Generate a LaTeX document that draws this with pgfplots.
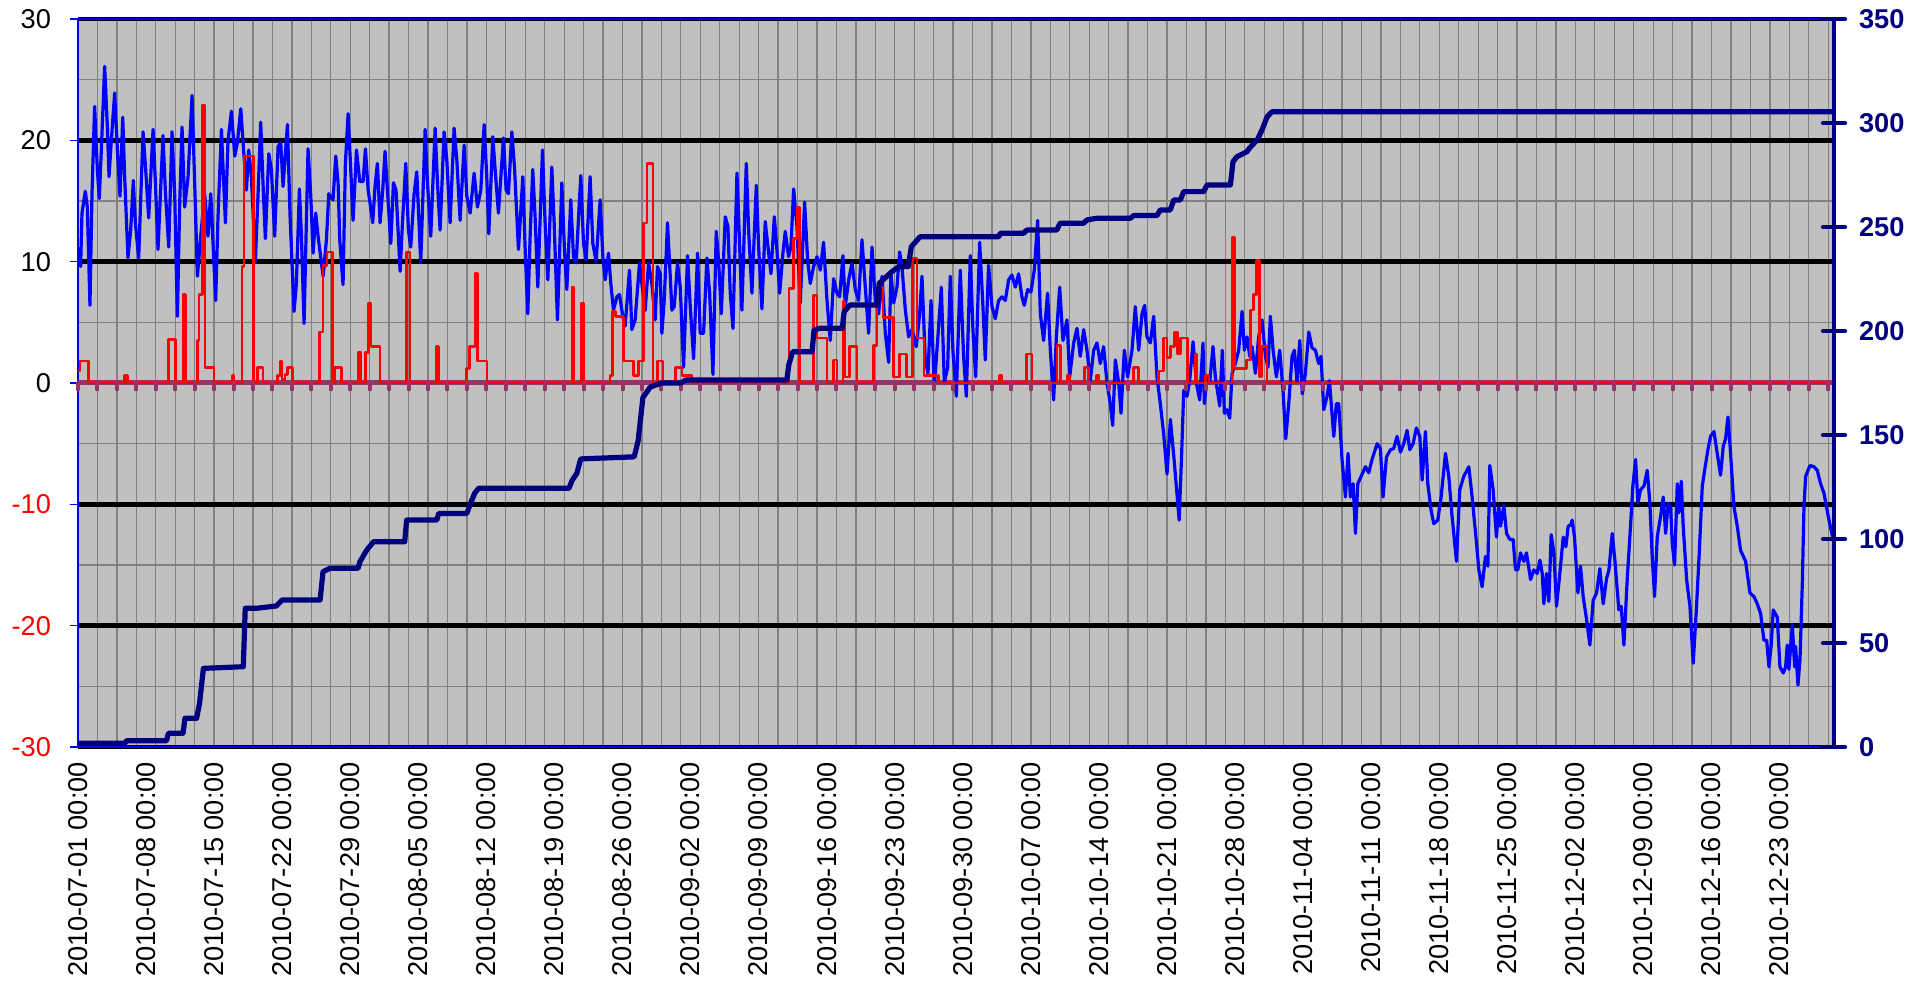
\documentclass[border=0pt]{standalone}
\usepackage{pgfplots}
\pgfplotsset{compat=1.18}
\usepackage{fontspec}
\setmainfont{Liberation Sans}
\definecolor{bgsilver}{RGB}{192,192,192}
\definecolor{gridgray}{RGB}{128,128,128}
\definecolor{plum}{RGB}{153,51,102}
\definecolor{navyb}{RGB}{0,0,128}
\definecolor{tblue}{RGB}{0,0,255}
\definecolor{pred}{RGB}{255,0,0}
\pgfdeclareplotmark{hang}{\pgfpathmoveto{\pgfpointorigin}\pgfpathlineto{\pgfpoint{0pt}{-3.2pt}}\pgfusepathqstroke}
\begin{document}
\begin{tikzpicture}
\begin{axis}[name=ax, scale only axis, width=878pt, height=364pt,
 xmin=0, xmax=180.6, ymin=-30, ymax=30,
 axis background/.style={fill=bgsilver},
 xtick={0,7,...,175},
 xticklabels={2010-07-01 00:00,2010-07-08 00:00,2010-07-15 00:00,2010-07-22 00:00,2010-07-29 00:00,2010-08-05 00:00,2010-08-12 00:00,2010-08-19 00:00,2010-08-26 00:00,2010-09-02 00:00,2010-09-09 00:00,2010-09-16 00:00,2010-09-23 00:00,2010-09-30 00:00,2010-10-07 00:00,2010-10-14 00:00,2010-10-21 00:00,2010-10-28 00:00,2010-11-04 00:00,2010-11-11 00:00,2010-11-18 00:00,2010-11-25 00:00,2010-12-02 00:00,2010-12-09 00:00,2010-12-16 00:00,2010-12-23 00:00},
 xtick style={draw=none},
 minor xtick={0,2,...,180},
 xminorgrids=true, xmajorgrids=false,
 ytick={-30,-20,...,30},
 yticklabels={\textcolor{pred}{-30},\textcolor{pred}{-20},\textcolor{pred}{-10},0,10,20,30},
 minor ytick={-25,-15,...,25},
 ymajorgrids=true, yminorgrids=true,
 major grid style={black, line width=2.2pt},
 minor grid style={gridgray, line width=0.65pt},
 minor tick length=0pt,
 ytick pos=left, tick align=outside,
 major tick length=4pt,
 ytick style={tblue, line width=0.6pt},
 x axis line style={black, line width=1.2pt},
 y axis line style={tblue, line width=0.8pt},
 ticklabel style={font=\fontsize{13.6}{15}\selectfont},
 xticklabel style={rotate=90, anchor=east},
 yticklabel style={xshift=-6pt},
]
\addplot[plum, line width=2.5pt, forget plot] coordinates {(0,0) (180.6,0)};
\addplot[only marks, mark=hang, mark options={plum, line width=2pt, line cap=round}, forget plot] coordinates {(0,0) (2,0) (4,0) (6,0) (8,0) (10,0) (12,0) (14,0) (16,0) (18,0) (20,0) (22,0) (24,0) (26,0) (28,0) (30,0) (32,0) (34,0) (36,0) (38,0) (40,0) (42,0) (44,0) (46,0) (48,0) (50,0) (52,0) (54,0) (56,0) (58,0) (60,0) (62,0) (64,0) (66,0) (68,0) (70,0) (72,0) (74,0) (76,0) (78,0) (80,0) (82,0) (84,0) (86,0) (88,0) (90,0) (92,0) (94,0) (96,0) (98,0) (100,0) (102,0) (104,0) (106,0) (108,0) (110,0) (112,0) (114,0) (116,0) (118,0) (120,0) (122,0) (124,0) (126,0) (128,0) (130,0) (132,0) (134,0) (136,0) (138,0) (140,0) (142,0) (144,0) (146,0) (148,0) (150,0) (152,0) (154,0) (156,0) (158,0) (160,0) (162,0) (164,0) (166,0) (168,0) (170,0) (172,0) (174,0) (176,0) (178,0) (180,0)};
% temperature
\addplot[tblue, line width=1.6pt, line join=round] coordinates {
(0,11.2) (0.27,9.6) (0.41,14.0) (0.75,15.8) (0.96,14.5) (1.23,6.4) (1.44,15.6) (1.71,22.8) (1.99,17.6) (2.19,15.2) (2.40,19.2) (2.74,26.1) (3.02,21.1) (3.19,17.0) (3.43,20.0) (3.77,23.9) (4.05,19.2) (4.32,15.4) (4.60,21.9) (4.80,17.0) (5.14,10.3) (5.42,12.6) (5.69,16.7) (5.90,13.2) (6.24,10.3) (6.69,20.7) (6.96,17.6) (7.27,13.6) (7.72,20.9) (7.96,16.5) (8.23,11.0) (8.74,20.4) (8.98,15.9) (9.33,11.2) (9.67,20.7) (9.95,15.4) (10.22,5.5) (10.46,14.8) (10.70,21.1) (10.97,14.5) (11.32,17.0) (11.73,23.7) (12.00,16.5) (12.28,8.8) (12.62,12.1) (13.03,15.6) (13.37,12.1) (13.65,15.6) (14.16,6.8) (14.40,13.7) (14.75,20.9) (15.16,13.2) (15.43,20.0) (15.78,22.4) (16.12,18.7) (16.39,19.8) (16.74,22.6) (16.98,19.8) (17.32,15.9) (17.56,19.2) (17.83,17.0) (18.24,10.0) (18.52,15.6) (18.79,21.5) (19.07,15.6) (19.27,11.9) (19.62,18.9) (19.89,17.6) (20.23,12.1) (20.58,19.5) (20.85,19.8) (21.09,16.2) (21.54,21.3) (21.81,13.7) (22.22,5.9) (22.46,8.2) (22.77,16.0) (22.98,12.1) (23.25,4.9) (23.66,19.3) (23.94,15.4) (24.18,10.7) (24.45,14.0) (24.69,12.1) (25.21,8.8) (25.55,11.8) (25.79,15.6) (26.23,15.1) (26.51,18.7) (26.75,16.5) (26.92,11.8) (27.26,8.1) (27.50,18.1) (27.78,22.2) (28.05,17.6) (28.29,13.4) (28.64,19.2) (28.98,16.6) (29.32,16.6) (29.56,19.3) (29.84,15.9)
(30.04,14.8) (30.31,13.2) (30.55,16.2) (30.79,18.1) (31.07,13.2) (31.34,15.9) (31.58,19.1) (31.82,15.9) (32.17,11.5) (32.44,16.5) (32.71,15.9) (33.13,9.2) (33.37,13.2) (33.71,18.1) (33.98,12.6) (34.22,11.2) (34.57,15.6) (34.84,17.4) (35.25,9.9) (35.46,15.1) (35.70,20.9) (35.94,16.5) (36.28,12.1) (36.73,21.0) (36.97,16.5) (37.24,12.6) (37.65,20.7) (37.93,18.4) (38.27,13.2) (38.68,21.0) (38.96,18.4) (39.30,13.4) (39.71,19.6) (39.99,15.4) (40.33,14.0) (40.74,17.3) (41.08,14.5) (41.43,15.9) (41.77,21.3) (42.04,17.0) (42.25,12.3) (42.66,20.3) (42.90,17.6) (43.24,14.0) (43.76,20.2) (44.03,15.9) (44.27,15.6) (44.62,20.7) (44.89,17.8) (45.30,11.0) (45.75,17.0) (45.99,11.0) (46.26,5.7) (46.50,12.1) (46.77,17.6) (47.01,13.7) (47.29,7.9) (47.77,19.2) (48.04,13.2) (48.32,8.5) (48.73,17.8) (48.97,13.2) (49.31,5.2) (49.76,16.5) (50.03,11.0) (50.27,7.7) (50.68,15.1) (50.96,10.4) (51.23,9.9) (51.71,17.1) (51.99,11.5) (52.26,10.1) (52.67,17.0) (52.95,11.5) (53.29,10.0) (53.70,15.1) (53.98,10.4) (54.22,8.5) (54.56,10.7) (54.80,8.2) (55.07,6.0) (55.42,7.1) (55.69,7.3) (56.03,5.5) (56.27,4.7) (56.72,9.3) (56.96,4.4) (57.30,5.2) (57.75,9.9) (57.99,8.2) (58.33,6.0) (58.68,9.9) (59.02,8.2) (59.36,5.2) (59.60,9.6)
(59.88,9.0) (60.05,4.1) (60.29,6.8) (60.63,13.2) (60.91,8.8) (61.08,6.0) (61.32,6.3) (61.66,9.9) (61.94,7.9) (62.28,1.3) (62.69,10.5) (62.97,6.3) (63.31,2.0) (63.72,10.7) (63.99,4.1) (64.34,4.1) (64.68,10.3) (64.96,7.4) (65.30,0.7) (65.64,12.5) (65.88,10.1) (66.16,5.7) (66.57,13.7) (66.84,12.9) (67.08,7.4) (67.36,4.5) (67.77,17.3) (67.94,13.7) (68.28,6.0) (68.73,18.1) (68.97,12.6) (69.31,7.4) (69.76,16.3) (70.00,11.2) (70.34,6.1) (70.68,13.3) (70.92,11.5) (71.27,9.0) (71.61,13.7) (71.88,11.0) (72.16,7.4) (72.50,10.7) (72.74,12.5) (73.08,10.4) (73.32,11.2) (73.60,16.0) (73.94,12.9) (74.28,6.6) (74.73,14.9) (75.04,10.1) (75.31,8.2) (75.65,9.6) (76.00,10.4) (76.34,9.3) (76.68,11.6) (77.03,6.8) (77.37,3.5) (77.71,8.6) (78.06,7.4) (78.33,7.1) (78.67,10.5) (78.91,6.3) (79.26,8.5) (79.60,9.9) (79.94,7.7) (80.28,6.8) (80.63,11.8) (80.97,7.9) (81.31,4.1) (81.66,11.2) (82.00,6.8) (82.34,5.7) (82.69,8.8) (83.03,4.1) (83.37,1.7) (83.61,9.0) (83.89,6.6) (84.23,7.9) (84.50,10.8) (84.74,9.6) (85.09,6.0) (85.43,3.8) (85.77,4.4) (86.22,3.0) (86.56,5.7) (86.80,8.8) (87.14,1.9) (87.42,0.8) (87.73,6.8) (88.07,-0.3) (88.41,3.5) (88.79,7.9) (89.10,0.0) (89.44,1.3)
(89.71,8.8) (89.98,2.7) (90.33,-1.1) (90.74,9.3) (91.08,2.2) (91.36,-1.1) (91.77,10.5) (92.04,4.4) (92.32,0.5) (92.73,11.6) (93.04,6.8) (93.31,1.9) (93.65,9.7) (94.00,6.3) (94.34,5.3) (94.68,6.8) (95.03,7.1) (95.37,6.8) (95.71,8.5) (96.05,8.9) (96.40,7.9) (96.74,9.0) (97.08,7.1) (97.32,6.4) (97.67,7.7) (98.01,7.5) (98.35,9.3) (98.70,13.4) (98.97,5.7) (99.31,3.5) (99.72,7.4) (100.00,2.7) (100.34,-1.4) (100.62,3.8) (100.96,7.9) (101.30,3.5) (101.71,5.2) (101.99,0.5) (102.40,3.3) (102.74,4.5) (103.08,2.2) (103.43,4.4) (103.77,2.7) (104.11,0.2) (104.46,2.7) (104.80,3.3) (105.14,1.6) (105.48,3.0) (105.83,0.0) (106.17,-1.7) (106.41,-3.5) (106.69,1.9) (107.03,0.0) (107.27,-2.5) (107.61,2.7) (107.95,0.5) (108.40,2.7) (108.74,6.3) (109.09,2.7) (109.43,5.7) (109.70,6.4) (109.94,3.8) (110.29,3.3) (110.63,5.5) (110.97,0.5) (111.31,-1.7) (111.66,-4.2) (112.0,-7.5) (112.35,-3.0) (112.75,-6.5) (113.25,-11.3) (113.5,-6.0) (113.72,-0.6) (114.06,-1.1) (114.33,0.2) (114.68,3.4) (115.02,0.0) (115.36,-1.4)
(115.70,3.3) (115.84,-1.7) (116.12,0.5) (116.39,0.0) (116.73,3.0) (116.97,0.5) (117.42,-1.9) (117.69,2.7) (117.90,-2.5) (118.17,-2.2) (118.45,-2.9) (118.69,0.8) (119.03,1.6) (119.37,2.7) (119.72,5.9) (119.96,2.7) (120.23,3.8) (120.51,2.2) (120.75,3.0) (121.09,0.8) (121.43,3.8) (121.77,5.2) (122.12,2.2) (122.39,1.3) (122.63,5.5) (122.91,2.7) (123.25,0.5) (123.59,2.7) (123.93,-0.6) (124.21,-4.6) (124.52,-1.7) (124.86,2.2) (125.10,2.7) (125.38,0.0) (125.65,3.5) (125.92,-0.9) (126.23,0.8) (126.58,4.2) (126.92,2.9) (127.26,2.7) (127.60,1.6) (127.84,2.2) (128.12,-2.2) (128.46,-1.1) (128.70,0.2) (128.91,-1.9) (129.15,-4.4) (129.42,-1.7) (129.66,-1.7) (130.00,-6.3) (130.35,-9.4) (130.62,-5.8) (130.86,-9.4) (131.14,-8.3) (131.38,-12.4) (131.62,-8.3) (131.96,-7.7) (132.41,-6.9) (132.75,-7.4) (133.09,-6.3) (133.61,-5.0) (133.95,-5.4) (134.22,-9.4) (134.57,-6.1) (134.98,-5.5) (135.32,-5.4) (135.66,-4.4) (136.01,-5.7) (136.35,-5.0) (136.69,-3.9) (136.97,-5.5) (137.31,-5.0) (137.65,-3.7) (138.00,-4.4) (138.24,-8.0) (138.58,-4.0) (138.82,-8.3) (139.16,-10.5) (139.44,-11.6) (139.85,-11.3) (140.19,-9.4) (140.64,-5.8) (140.98,-7.7) (141.32,-11.0) (141.77,-14.7) (142.11,-8.8) (142.52,-7.7) (143.04,-6.9) (143.38,-9.4) (143.83,-13.2) (144.07,-15.4) (144.41,-16.8) (144.75,-14.3) (145.00,-15.1) (145.20,-6.8) (145.54,-8.8) (145.88,-12.7) (146.12,-10.2)
(146.30,-11.8) (146.64,-10.1) (146.92,-12.4) (147.26,-12.9) (147.60,-12.9) (147.84,-15.4) (148.08,-15.4) (148.36,-14.0) (148.70,-14.7) (148.97,-14.0) (149.39,-16.2) (149.73,-15.4) (150.07,-15.7) (150.35,-14.6) (150.59,-15.7) (150.76,-18.2) (151.03,-15.7) (151.27,-18.0) (151.51,-12.5) (151.79,-14.0) (152.06,-18.4) (152.40,-15.7) (152.75,-12.7) (153.02,-13.5) (153.26,-11.8) (153.50,-11.7) (153.67,-11.3) (153.91,-12.7) (154.26,-17.3) (154.53,-15.1) (154.80,-17.6) (155.15,-19.5) (155.49,-21.6) (155.83,-17.9) (156.18,-17.3) (156.52,-15.3) (156.86,-18.2) (157.21,-16.1) (157.45,-15.4) (157.79,-12.4) (158.06,-14.6) (158.47,-18.7) (158.71,-18.4) (158.99,-21.6) (159.33,-16.2) (159.67,-11.8) (159.91,-8.5) (160.19,-6.3) (160.43,-9.9) (160.70,-8.8) (161.05,-8.5) (161.39,-7.2) (161.66,-9.9) (161.90,-14.3) (162.14,-17.6) (162.42,-12.7) (162.76,-11.0) (163.04,-9.4) (163.28,-12.4) (163.55,-9.9) (163.79,-10.2) (163.96,-13.2) (164.20,-15.0) (164.48,-8.3) (164.65,-10.7) (164.89,-8.1) (165.09,-11.8) (165.44,-16.2) (165.78,-18.4) (166.12,-23.1) (166.46,-18.4) (166.74,-14.0) (167.05,-8.5) (167.29,-7.2) (167.63,-5.5) (167.90,-4.4) (168.25,-4.0) (168.59,-5.8) (168.93,-7.6) (169.21,-5.2) (169.45,-4.6) (169.69,-2.8) (169.96,-5.8) (170.31,-10.2) (170.65,-11.8) (170.99,-13.8) (171.51,-14.7) (171.95,-17.3) (172.36,-17.6) (172.71,-18.2) (173.05,-19.0) (173.39,-21.2) (173.67,-21.2) (173.91,-23.4) (174.15,-21.5) (174.35,-18.7) (174.76,-19.3) (175.04,-23.4) (175.38,-23.9) (175.62,-23.4) (175.79,-21.6) (175.96,-23.6) (176.31,-19.9) (176.55,-23.4) (176.65,-21.7) (176.89,-24.9) (177.10,-22.8) (177.34,-16.5) (177.51,-10.2) (177.68,-7.7) (178.12,-6.8) (178.54,-6.9) (178.88,-7.2) (179.22,-8.3) (179.57,-9.1) (180.08,-11.3) (180.59,-13.2)
};
% precipitation
\addplot[pred, line width=1.3pt, const plot, line join=round] coordinates {
(0,1.0) (0.2,1.8) (1.05,0) (4.8,0.6) (5.08,0) (9.33,3.6) (10.05,0) (10.8,7.3) (11.05,0) (12.28,3.5) (12.45,7.3) (12.8,22.9) (13.05,1.3) (14.0,0) (15.88,0.6) (16.05,0) (16.87,9.6) (17.08,18.7) (18.05,0) (18.45,1.3) (19.03,0) (20.5,0.6) (20.85,1.8) (21.0,0.3) (21.3,0.7) (21.55,1.3) (22.05,0) (24.86,4.2) (25.2,9.7) (25.6,10.8) (26.2,0) (26.4,1.3) (27.1,0) (28.87,2.5) (29.1,0) (29.56,2.5) (29.9,6.6) (30.15,3.0) (31.07,0) (33.8,10.8) (34.15,0) (36.9,3.0) (37.08,0) (39.98,1.2) (40.27,3.0) (40.84,9.0) (41.1,1.8) (42.05,0) (50.79,7.9) (51.03,0) (51.8,6.6) (51.99,0) (54.73,0.6) (55.0,5.9) (55.25,5.5) (56.1,1.8) (57.1,0.6) (57.65,1.8) (58.17,13.2) (58.5,18.1) (59.15,0) (59.6,1.8) (60.15,0) (61.42,1.3) (62.1,0.6) (63.14,0) (73.13,7.8) (73.6,11.9) (73.95,14.5) (74.2,0) (75.65,7.2) (76.0,3.7) (77.03,0) (77.71,1.9) (78.06,0) (78.67,6.7) (78.85,0.5) (79.35,3.0) (80.13,0) (81.83,3.1) (82.17,7.9) (82.8,5.4) (83.89,0.5) (84.5,2.4) (85.2,0.5) (85.8,10.3) (86.3,3.7) (87.0,0.6) (88.5,0) (94.8,0.6) (95.03,0) (97.53,2.4) (98.1,0) (100.68,3.1) (101.03,0) (101.71,0.6) (102.0,0) (103.5,1.3) (103.95,0) (104.75,0.6) (105.0,0) (108.57,1.3) (109.09,0) (111.15,1.0) (111.66,3.7) (112.0,2.1) (112.34,3.0) (112.76,4.2) (113.1,2.4) (113.4,3.7) (114.1,0) (114.9,2.4) (115.1,0) (115.95,0.6) (116.3,0) (118.7,12.0) (118.95,1.2) (120.2,1.9) (120.6,6.0) (120.9,7.3) (121.2,10.1) (121.5,0.5) (121.7,3.0) (122.3,0) (180.6,0)
};
\end{axis}
\begin{axis}[scale only axis, width=878pt, height=364pt,
 xmin=0, xmax=180.6, ymin=0, ymax=350,
 axis x line=none, axis y line*=right,
 ytick={0,50,...,350},
 yticklabels={0,50,100,150,200,250,300,350},
 minor tick length=0pt,
 tick align=center, major tick length=11pt,
 ytick style={navyb, line width=2.2pt, line cap=round},
 y axis line style={navyb, line width=2.2pt},
 yticklabel style={font=\fontsize{13.6}{15}\selectfont\bfseries, text=navyb, xshift=3.5pt},
]
\addplot[navyb, line width=2.6pt, line join=round] coordinates {
(0,1.0) (0.1,1.8) (4.8,1.8) (5.0,3.0) (9.1,3.0) (9.3,6.6) (10.8,6.6) (11.0,13.8) (12.2,13.8) (12.5,21.0) (12.9,37.8) (17.0,38.6) (17.2,66.7) (18.4,66.7) (20.4,67.8) (21.0,70.7) (24.9,70.7) (25.2,84.3) (25.9,85.9) (28.8,85.9) (29.0,89.1) (29.7,94.7) (30.4,98.7) (33.6,98.7) (33.8,109.1) (36.9,109.1) (37.1,112.3) (40.0,112.3) (40.3,116.3) (40.8,122.0) (41.2,124.4) (50.5,124.4) (50.8,128.0) (51.3,131.5) (51.7,138.5) (57.2,139.5) (57.6,147.0) (58.1,168.0) (58.85,173.0) (60.0,175.0) (62.0,175.0) (62.5,176.4) (72.9,176.4) (73.1,183.7) (73.5,190.0) (75.5,190.0) (75.7,200.5) (76.3,201.3) (78.6,201.3) (78.8,209.3) (79.4,212.5) (82.2,212.5) (82.4,222.9) (83.7,228.5) (84.4,230.9) (85.4,231.0) (85.7,240.5) (86.6,245.3) (94.7,245.3) (94.85,247.0) (97.25,247.0) (97.6,248.6) (100.68,248.6) (100.85,250.4) (101.0,251.8) (103.43,251.8) (103.77,253.4) (104.8,254.2) (108.23,254.2) (108.57,255.5) (110.97,255.5) (111.31,258.2) (112.34,258.2) (112.69,263.0) (113.37,263.0) (113.72,267.0) (115.77,267.0) (116.12,270.2) (118.52,270.2) (118.79,281.4) (119.2,283.8) (120.23,286.2) (120.5,288.0) (121.3,292.0) (121.8,297.0) (122.3,303.0) (122.8,305.4) (180.6,305.4)
};
\end{axis}
\pgfresetboundingbox
\path ([xshift=-39pt,yshift=-118pt]ax.south west) rectangle ([xshift=48pt,yshift=9.5pt]ax.north east);
\end{tikzpicture}
\end{document}
